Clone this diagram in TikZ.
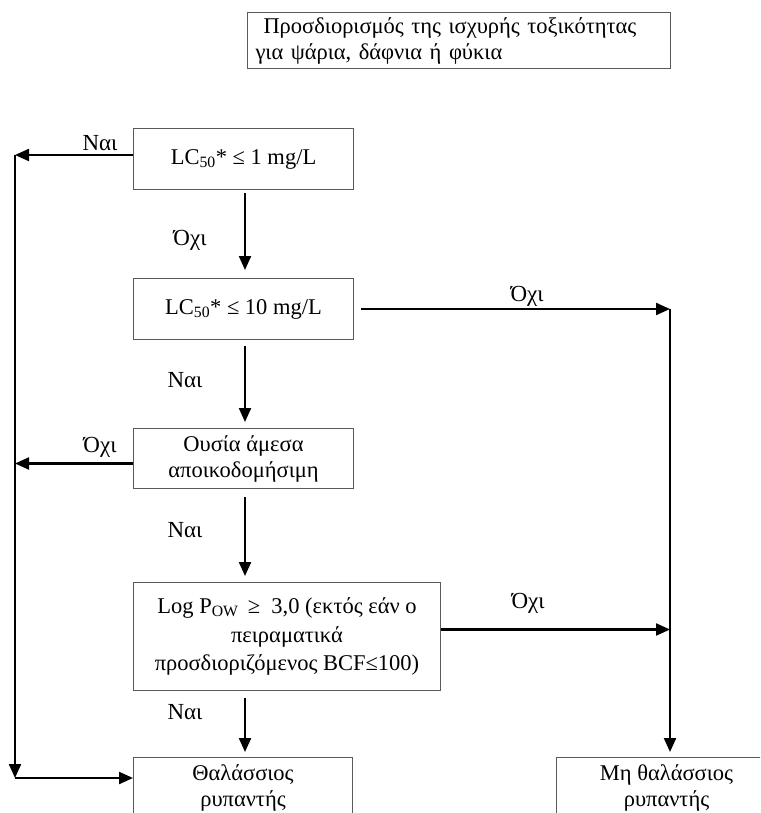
\documentclass[tikz,border=0pt]{standalone}
\usepackage{fontspec}
\setmainfont{Liberation Serif}
\usetikzlibrary{arrows.meta}
\begin{document}
\begin{tikzpicture}[x=1pt,y=-1pt,
  box/.style={draw=black!65, line width=1pt, anchor=north west, inner sep=0pt, align=center,
    font=\fontsize{22.5}{26}\selectfont},
  lbl/.style={font=\fontsize{23}{24}\selectfont, inner sep=0pt},
  arr/.style={line width=2.2pt, -{Triangle[length=14pt,width=12pt]}}]
\useasboundingbox (0,0) rectangle (760,813);
\clip (0,0) rectangle (760,813);
% nodes
\node[box, align=left, minimum width=423pt, minimum height=56pt, text width=407pt] (title) at (247,12)
  {\hspace*{8pt}Προσδιορισμός της ισχυρής τοξικότητας\\για ψάρια, δάφνια ή φύκια};
\node[box, minimum width=220pt, minimum height=61pt] (box1) at (133,128) {LC\textsubscript{50}* ≤ 1 mg/L};
\node[box, minimum width=220pt, minimum height=61pt] (box2) at (133,278) {LC\textsubscript{50}* ≤ 10 mg/L};
\node[box, minimum width=220pt, minimum height=60pt] (box3) at (133,428) {Ουσία άμεσα\\αποικοδομήσιμη};
\node[box, minimum width=307pt, minimum height=108pt, font=\fontsize{22.5}{28.5}\selectfont] (box4) at (133,582)
  {Log P\textsubscript{OW} \,≥\ \ 3,0 (εκτός εάν ο\\πειραματικά\\προσδιοριζόμενος BCF≤100)};
\node[box, minimum width=219pt, minimum height=60pt] (box5) at (133,757) {Θαλάσσιος\\ρυπαντής};
\node[box, minimum width=220pt, minimum height=60pt] (box6) at (556,757) {Μη θαλάσσιος\\ρυπαντής};
% guide coordinates
\coordinate (lft) at (15,0);
\coordinate (rgt) at (670,0);
\coordinate (cx) at (245,0);
\coordinate (lbot) at (15,778);
\coordinate (b1w) at ([yshift=4pt]box1.west);
\coordinate (b3w) at ([yshift=-5pt]box3.west);
\coordinate (b2e) at ([xshift=7pt]box2.east);
\coordinate (b4e) at ([yshift=7pt]box4.east);
% connectors
\draw[arr] (b1w) -- (b1w -| lft);
\draw[arr] (b1w -| lft) -- (lbot);
\draw[arr] (lbot) -- (lbot -| box5.west);
\draw[arr] (b3w) -- (b3w -| lft);
\draw[arr] (b2e) -- (b2e -| rgt);
\draw[arr, shorten >=5pt] (b2e -| rgt) -- (rgt |- box6.north);
\draw[arr] (b4e) -- (b4e -| rgt);
\draw[arr, shorten <=3pt, shorten >=8pt] (box1.south -| cx) -- (box2.north -| cx);
\draw[arr, shorten <=6pt, shorten >=6pt] (box2.south -| cx) -- (box3.north -| cx);
\draw[arr, shorten <=8pt, shorten >=6pt] (box3.south -| cx) -- (box4.north -| cx);
\draw[arr, shorten <=7pt, shorten >=5pt] (box4.south -| cx) -- (box5.north -| cx);
% labels
\node[lbl] (l1) at (100,143) {Ναι};
\node[lbl] (l2) at (190,240) {Όχι};
\node[lbl] (l3) at (527,296) {Όχι};
\node[lbl] (l4) at (185,380) {Ναι};
\node[lbl] (l5) at (100,447) {Όχι};
\node[lbl] (l6) at (185,530) {Ναι};
\node[lbl] (l7) at (528,603) {Όχι};
\node[lbl] (l8) at (185,712) {Ναι};
\end{tikzpicture}
\end{document}
